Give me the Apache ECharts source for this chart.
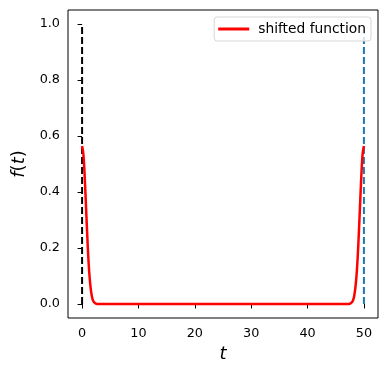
<!DOCTYPE html>
<html>
<head>
<meta charset="utf-8">
<script src="https://cdn.jsdelivr.net/npm/echarts@6/dist/echarts.min.js"></script>
<style>
  html, body { margin: 0; padding: 0; background: #fff; }
  #chart { width: 388px; height: 376px; }
</style>
</head>
<body>
<div id="chart"></div>
<script>
// values
var tValues = [0, 0.25, 0.5, 0.75, 1.0, 1.25, 1.5, 1.75, 2.0, 2.25, 2.5, 3.0,
  47.0, 47.5, 47.75, 48.0, 48.25, 48.5, 48.75, 49.0, 49.25, 49.5, 49.75, 50.0]
var fValues = [0.564, 0.531, 0.439, 0.322, 0.208, 0.118, 0.060, 0.026, 0.010, 0.004, 0.001, 0.0,
  0.0, 0.001, 0.004, 0.010, 0.026, 0.060, 0.118, 0.208, 0.322, 0.439, 0.531, 0.564]
var xTicks = [0, 10, 20, 30, 40, 50]
var yTicks = [0, 0.2, 0.4, 0.6, 0.8, 1.0]
var blackMark = [[0, 0], [0, 1]]
var blueMark = [[50, 0], [50, 1]]

var font = 'DejaVu Sans'
var shifted = tValues.map(function (t, i) {
  return [t, fValues[i]]
})

var option = {
  animation: false,
  backgroundColor: '#fff',
  grid: {
    left: 68,
    top: 10,
    width: 310,
    height: 308,
    show: true,
    borderColor: '#000',
    borderWidth: 1,
    backgroundColor: 'transparent',
  },
  legend: {
    data: ['shifted function'],
    right: 17,
    top: 17,
    itemWidth: 31,
    itemHeight: 3,
    itemGap: 0,
    padding: [5, 5, 5, 4],
    borderColor: '#d6d6d6',
    borderWidth: 1,
    borderRadius: 3,
    backgroundColor: 'rgba(255,255,255,0.8)',
    icon: 'rect',
    textStyle: { fontFamily: font, fontSize: 13.8, color: '#000', padding: [0, 0, 0, 4] },
  },
  xAxis: {
    type: 'value',
    min: -2.5,
    max: 52.5,
    name: 't',
    nameLocation: 'middle',
    nameGap: 27,
    nameTextStyle: { fontFamily: font, fontSize: 18, fontStyle: 'italic', color: '#000' },
    axisLine: { show: false },
    splitLine: { show: false },
    axisTick: {
      show: true,
      length: 4.5,
      customValues: xTicks,
      lineStyle: { color: '#000', width: 1 },
    },
    axisLabel: {
      customValues: xTicks,
      fontFamily: font,
      fontSize: 12.8,
      color: '#000',
      margin: 9,
    },
  },
  yAxis: {
    type: 'value',
    min: -0.05,
    max: 1.05,
    name: '{i|f}{u|(}{i|t}{u|)}',
    nameLocation: 'middle',
    nameGap: 38,
    nameTextStyle: {
      rich: {
        i: { fontFamily: font, fontSize: 18, fontStyle: 'italic', color: '#000' },
        u: { fontFamily: font, fontSize: 18, color: '#000' },
      },
    },
    axisLine: { show: false },
    splitLine: { show: false },
    axisTick: {
      show: true,
      length: 4.5,
      customValues: yTicks,
      lineStyle: { color: '#000', width: 1 },
    },
    axisLabel: {
      customValues: yTicks,
      fontFamily: font,
      fontSize: 12.8,
      color: '#000',
      margin: 8,
      formatter: function (v) {
        return v.toFixed(1)
      },
    },
  },
  series: [
    {
      name: 'black line',
      type: 'line',
      data: blackMark,
      symbol: 'none',
      lineStyle: { color: '#000', width: 2, type: [7, 3] },
      z: 2,
    },
    {
      name: 'blue line',
      type: 'line',
      data: blueMark,
      symbol: 'none',
      lineStyle: { color: '#1f77b4', width: 2, type: [7, 3] },
      z: 2,
    },
    {
      name: 'shifted function',
      type: 'line',
      data: shifted,
      symbol: 'none',
      smooth: 0.3,
      color: '#ff0000',
      lineStyle: { color: '#ff0000', width: 2.5 },
      z: 3,
    },
  ],
}

var myChart = echarts.init(document.getElementById('chart'))
myChart.setOption(option)
</script>
</body>
</html>
